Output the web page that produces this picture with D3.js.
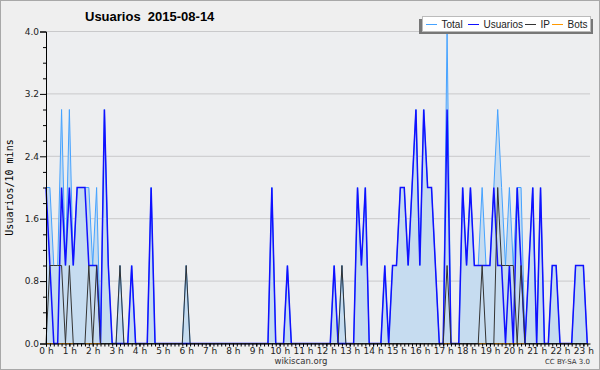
<!DOCTYPE html>
<html>
<head>
<meta charset="utf-8">
<script src="https://cdn.jsdelivr.net/npm/d3@7"></script>
<style>
  body { margin: 0; background: #fff; }
  text { font-family: "DejaVu Sans", sans-serif; }
</style>
</head>
<body>
<div id="chart"></div>
<script>
// one value per 10 minutes, from 0:00
var total = [
  2, 2, 1, 1, 3, 1, 3, 1, 2, 2,
  2, 2, 1, 2, 0, 3, 1, 0, 0, 1,
  0, 0, 1, 0, 0, 0, 0, 2, 0, 0,
  0, 0, 0, 0, 0, 0, 1, 0, 0, 0,
  0, 0, 0, 0, 0, 0, 0, 0, 0, 0,
  0, 0, 0, 0, 0, 0, 0, 0, 2, 0,
  0, 0, 1, 0, 0, 0, 0, 0, 0, 0,
  0, 0, 0, 0, 1, 0, 1, 0, 0, 0,
  2, 1, 2, 0, 0, 0, 0, 1, 0, 1,
  1, 2, 2, 1, 2, 3, 1, 3, 2, 2,
  1, 0, 0, 4, 0, 0, 0, 2, 1, 2,
  1, 1, 2, 1, 1, 2, 3, 2, 1, 2,
  1, 2, 2, 0, 1, 2, 0, 2, 0, 0,
  1, 1, 0, 0, 0, 0, 1, 1, 1, 0
];
var usuarios = [
  2, 1, 0, 0, 2, 1, 2, 1, 2, 2,
  2, 1, 1, 1, 0, 3, 1, 0, 0, 0,
  0, 0, 1, 0, 0, 0, 0, 2, 0, 0,
  0, 0, 0, 0, 0, 0, 0, 0, 0, 0,
  0, 0, 0, 0, 0, 0, 0, 0, 0, 0,
  0, 0, 0, 0, 0, 0, 0, 0, 2, 0,
  0, 0, 1, 0, 0, 0, 0, 0, 0, 0,
  0, 0, 0, 0, 1, 0, 0, 0, 0, 0,
  2, 1, 2, 0, 0, 0, 0, 1, 0, 1,
  1, 2, 2, 1, 2, 3, 1, 3, 2, 2,
  1, 0, 0, 3, 0, 0, 0, 2, 1, 2,
  1, 1, 1, 1, 1, 2, 1, 1, 0, 1,
  0, 2, 1, 0, 1, 2, 0, 2, 0, 0,
  1, 1, 0, 0, 0, 0, 1, 1, 1, 0
];
var ip = [
  0, 1, 1, 1, 1, 0, 1, 0, 0, 0,
  0, 1, 0, 1, 0, 0, 0, 0, 0, 1,
  0, 0, 0, 0, 0, 0, 0, 0, 0, 0,
  0, 0, 0, 0, 0, 0, 1, 0, 0, 0,
  0, 0, 0, 0, 0, 0, 0, 0, 0, 0,
  0, 0, 0, 0, 0, 0, 0, 0, 0, 0,
  0, 0, 0, 0, 0, 0, 0, 0, 0, 0,
  0, 0, 0, 0, 0, 0, 1, 0, 0, 0,
  0, 0, 0, 0, 0, 0, 0, 0, 0, 0,
  0, 0, 0, 0, 0, 0, 0, 0, 0, 0,
  0, 0, 0, 1, 0, 0, 0, 0, 0, 0,
  0, 0, 1, 0, 0, 0, 2, 1, 1, 1,
  1, 0, 1, 0, 0, 0, 0, 0, 0, 0,
  0, 0, 0, 0, 0, 0, 0, 0, 0, 0
];
var bots = [
  0, 0, 0, 0, 0, 0, 0, 0, 0, 0,
  0, 0, 0, 0, 0, 0, 0, 0, 0, 0,
  0, 0, 0, 0, 0, 0, 0, 0, 0, 0,
  0, 0, 0, 0, 0, 0, 0, 0, 0, 0,
  0, 0, 0, 0, 0, 0, 0, 0, 0, 0,
  0, 0, 0, 0, 0, 0, 0, 0, 0, 0,
  0, 0, 0, 0, 0, 0, 0, 0, 0, 0,
  0, 0, 0, 0, 0, 0, 0, 0, 0, 0,
  0, 0, 0, 0, 0, 0, 0, 0, 0, 0,
  0, 0, 0, 0, 0, 0, 0, 0, 0, 0,
  0, 0, 0, 0, 0, 0, 0, 0, 0, 0,
  0, 0, 0, 0, 0, 0, 0, 0, 0, 0,
  0, 0, 0, 0, 0, 0, 0, 0, 0, 0,
  0, 0, 0, 0, 0, 0, 0, 0, 0, 0
];
var hourLabels = ["0 h", "1 h", "2 h", "3 h", "4 h", "5 h", "6 h", "7 h", "8 h", "9 h", "10 h", "11 h",
  "12 h", "13 h", "14 h", "15 h", "16 h", "17 h", "18 h", "19 h", "20 h", "21 h", "22 h", "23 h"];
var yMajor = [0, 0.8, 1.6, 2.4, 3.2, 4.0];
var yMinor = [0.2, 0.4, 0.6, 1.0, 1.2, 1.4, 1.8, 2.0, 2.2, 2.6, 2.8, 3.0, 3.4, 3.6, 3.8];

var series = [
  { name: "Total", values: total, color: "#45a2ff", width: 1 },
  { name: "Usuarios", values: usuarios, color: "#1010ff", width: 1.5 },
  { name: "IP", values: ip, color: "#333333", width: 1 },
  { name: "Bots", values: bots, color: "#ff9900", width: 1 }
];

var width = 600, height = 370;
var plot = { left: 46, right: 590, top: 31.5, bottom: 343.5 };

var svg = d3.select("#chart").append("svg")
  .attr("width", width)
  .attr("height", height);

svg.append("rect")
  .attr("x", 0.5).attr("y", 0.5)
  .attr("width", width - 1).attr("height", height - 1)
  .attr("fill", "#efefef")
  .attr("stroke", "#a8a8a8");

var x = d3.scaleLinear().domain([0, 139.7]).range([plot.left, plot.right]);
var y = d3.scaleLinear().domain([0, 4]).range([plot.bottom, plot.top]);

svg.append("rect")
  .attr("x", plot.left).attr("y", plot.top)
  .attr("width", plot.right - plot.left).attr("height", plot.bottom - plot.top)
  .attr("fill", "#edeef0");

// grid
svg.append("g").selectAll("line")
  .data(yMajor.slice(1))
  .enter().append("line")
  .attr("x1", plot.left).attr("x2", plot.right)
  .attr("y1", function(d){ return y(d); })
  .attr("y2", function(d){ return y(d); })
  .attr("stroke", "#c9c9cb");

// area under total
var area = d3.area()
  .x(function(d, i){ return x(i); })
  .y0(y(0))
  .y1(function(d){ return y(d); });
svg.append("path")
  .datum(total)
  .attr("d", area)
  .attr("fill", "#c6dcf0");

var line = d3.line()
  .x(function(d, i){ return x(i); })
  .y(function(d){ return y(d); });

[series[3], series[0], series[1], series[2]].forEach(function(s){
  svg.append("path")
    .datum(s.values)
    .attr("d", line)
    .attr("fill", "none")
    .attr("stroke", s.color)
    .attr("stroke-width", s.width)
    .attr("stroke-linejoin", "miter");
});

// axes
var yAxis = d3.axisLeft(y).tickValues(yMajor).tickFormat(d3.format(".1f")).tickSize(6).tickPadding(1);
var yMinorAxis = d3.axisLeft(y).tickValues(yMinor).tickFormat("").tickSize(3);
var gy = svg.append("g").attr("transform", "translate(" + plot.left + ",0)").call(yAxis);
svg.append("g").attr("transform", "translate(" + plot.left + ",0)").call(yMinorAxis)
  .select(".domain").remove();

var xTicks = d3.range(0, 140);
var xAxis = d3.axisBottom(x).tickValues(xTicks).tickFormat("").tickSize(3).tickSizeOuter(0);
var xLabelAxis = d3.axisBottom(x)
  .tickValues(hourLabels.map(function(d, i){ return i * 6; }))
  .tickFormat(function(d){ return hourLabels[d / 6]; })
  .tickSize(3).tickPadding(1);
var gx = svg.append("g").attr("transform", "translate(0," + plot.bottom + ")").call(xAxis);
var gxl = svg.append("g").attr("transform", "translate(0," + plot.bottom + ")").call(xLabelAxis);
gxl.select(".domain").remove();

svg.selectAll(".tick text")
  .style("font-family", "DejaVu Sans, sans-serif")
  .style("font-size", "9px")
  .attr("fill", "#222");
svg.selectAll(".domain, .tick line").attr("stroke", "#000");

// titles
svg.append("text")
  .attr("x", 85).attr("y", 21)
  .style("font-family", "Liberation Sans, Arial, sans-serif")
  .style("font-size", "13px").style("font-weight", "bold")
  .style("white-space", "pre")
  .text("Usuarios  2015-08-14");

svg.append("text")
  .attr("transform", "translate(13," + ((plot.top + plot.bottom) / 2) + ") rotate(-90)")
  .attr("text-anchor", "middle")
  .style("font-family", "DejaVu Sans Mono, monospace")
  .style("font-size", "10px")
  .text("Usuarios/10 mins");

svg.append("text")
  .attr("x", 301).attr("y", 364)
  .attr("text-anchor", "middle")
  .style("font-size", "8.5px").attr("fill", "#333")
  .text("wikiscan.org");

svg.append("text")
  .attr("x", 590).attr("y", 364)
  .attr("text-anchor", "end")
  .style("font-size", "7px").attr("fill", "#333")
  .text("CC BY-SA 3.0");

// legend
var legend = svg.append("g");
legend.append("rect")
  .attr("x", 419).attr("y", 19).attr("width", 174).attr("height", 15)
  .attr("fill", "#777");
legend.append("rect")
  .attr("x", 422.5).attr("y", 16.5).attr("width", 168).attr("height", 15)
  .attr("fill", "#fff").attr("stroke", "#bbb");

var legendX = [426, 468, 525, 552];
series.forEach(function(s, i){
  legend.append("line")
    .attr("x1", legendX[i]).attr("x2", legendX[i] + 11)
    .attr("y1", 24.5).attr("y2", 24.5)
    .attr("stroke", s.color).attr("stroke-width", 1);
  legend.append("text")
    .attr("x", legendX[i] + 15.5).attr("y", 28.3)
    .style("font-family", "Liberation Sans, Arial, sans-serif")
    .style("font-size", "10px").attr("fill", "#222")
    .text(s.name);
});
</script>
</body>
</html>
